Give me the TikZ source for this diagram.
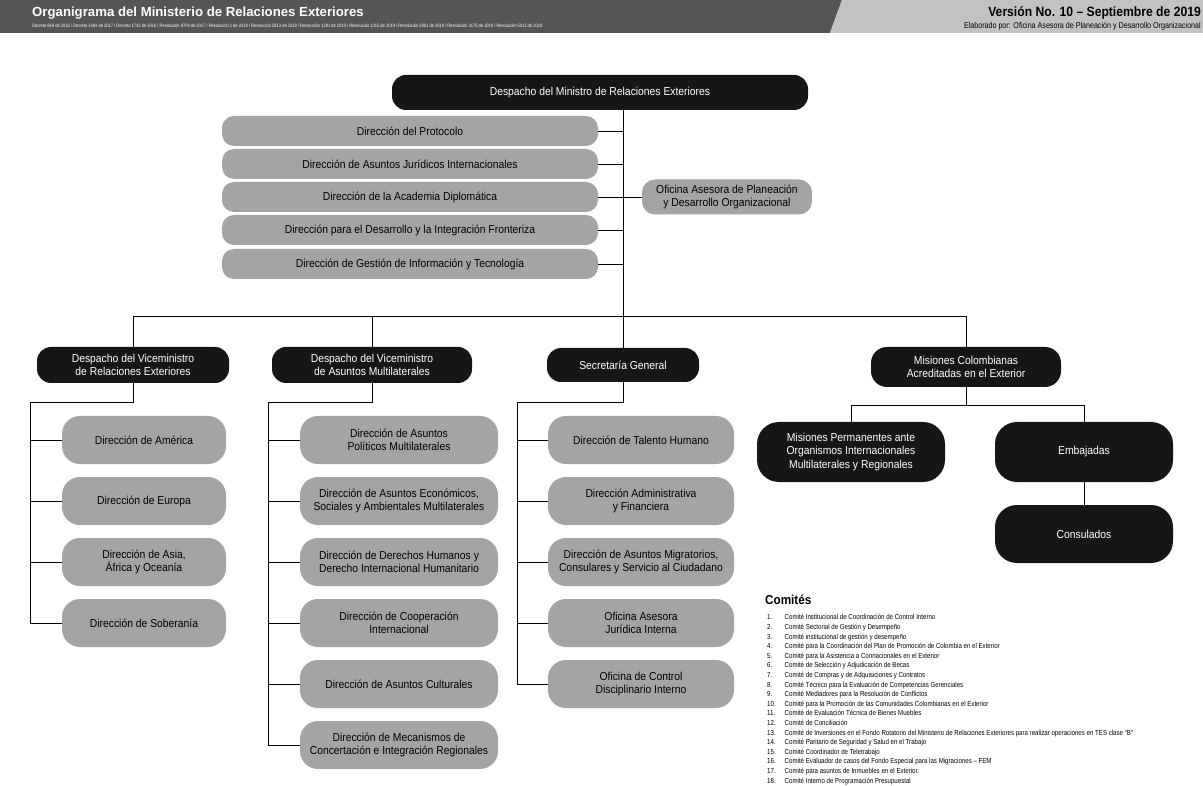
\documentclass[tikz,border=0pt]{standalone}
\usepackage{fontspec}
\setmainfont{Liberation Sans}
\newfontfamily\narrowfont{Liberation Sans}[FakeStretch=0.9,Ligatures=TeX]
\newfontfamily\tinyfont{Liberation Sans}[FakeStretch=0.84,Ligatures=TeX]
\usetikzlibrary{calc}
\definecolor{boxdark}{HTML}{161616}
\definecolor{boxgray}{HTML}{A4A4A4}
\definecolor{banddark}{HTML}{555555}
\definecolor{bandlight}{HTML}{C2C2C2}
\begin{document}
\begin{tikzpicture}[x=1pt,y=-1pt,
  darkbox/.style={fill=boxdark,text=white,rounded corners=14pt,align=center,inner sep=0pt,
    font=\narrowfont\fontsize{11.5}{13.5}\selectfont},
  lightbox/.style={fill=boxgray,text=black,rounded corners=14pt,align=center,inner sep=0pt,
    font=\narrowfont\fontsize{11.5}{13.5}\selectfont},
  staffbox/.style={lightbox,minimum width=376pt,minimum height=30pt,rounded corners=12pt},
  c1box/.style={lightbox,minimum width=164pt,minimum height=48pt,rounded corners=18pt},
  c2box/.style={lightbox,minimum width=198pt,minimum height=48pt,rounded corners=18pt},
  c3box/.style={lightbox,minimum width=186pt,minimum height=48pt,rounded corners=18pt},
  conn/.style={draw=black,line width=0.6pt}
]
\useasboundingbox (0,0) rectangle (1203,786);
\fill[white] (0,0) rectangle (1203,786);

% ---------- header ----------
\fill[banddark] (0,0) -- (842,0) -- (830,33) -- (0,33) -- cycle;
\fill[bandlight] (842,0) -- (1203,0) -- (1203,33) -- (830,33) -- cycle;
\node[anchor=west,inner sep=0pt,text=white,font=\bfseries\fontsize{13.2}{14}\selectfont] (title) at (32,13)
  {Organigrama del Ministerio de Relaciones Exteriores};
\node[anchor=west,inner sep=0pt,text=white,font=\tinyfont\fontsize{4.8}{5}\selectfont] (legal) at (32,26)
  {Decreto 869 de 2016 / Decreto 1484 de 2017 / Decreto 1743 de 2016 / Resolución 9709 de 2017 / Resolución 1 de 2018 / Resolución 5813 de 2018 / Resolución 1291 de 2019 / Resolución 1315 de 2019 / Resolución 2961 de 2019 / Resolución 3175 de 2019 / Resolución 5012 de 2019};
\node[anchor=east,inner sep=0pt,font=\bfseries\narrowfont\fontsize{13.5}{14}\selectfont] (version) at (1201,13)
  {Versión No. 10 – Septiembre de 2019};
\node[anchor=east,inner sep=0pt,font=\tinyfont\fontsize{8.5}{9}\selectfont] (elab) at (1201,26)
  {Elaborado por: Oficina Asesora de Planeación y Desarrollo Organizacional};

% ---------- top ----------
\node[darkbox,minimum width=416pt,minimum height=35pt] (min) at (600,92.5)
  {Despacho del Ministro de Relaciones Exteriores};

\node[staffbox] (s1) at (410,131) {Dirección del Protocolo};
\node[staffbox] (s2) at (410,164) {Dirección de Asuntos Jurídicos Internacionales};
\node[staffbox] (s3) at (410,197) {Dirección de la Academia Diplomática};
\node[staffbox] (s4) at (410,230) {Dirección para el Desarrollo y la Integración Fronteriza};
\node[staffbox] (s5) at (410,264) {Dirección de Gestión de Información y Tecnología};

\node[lightbox,minimum width=170pt,minimum height=35pt,rounded corners=13pt] (ofi) at (727,197)
  {Oficina Asesora de Planeación\\y Desarrollo Organizacional};

% ---------- second level ----------
\node[darkbox,minimum width=192pt,minimum height=36pt] (vm1) at (133,365)
  {Despacho del Viceministro\\de Relaciones Exteriores};
\node[darkbox,minimum width=200pt,minimum height=36pt] (vm2) at (372,365)
  {Despacho del Viceministro\\de Asuntos Multilaterales};
\node[darkbox,minimum width=152pt,minimum height=34pt] (sg) at (623,365)
  {Secretaría General};
\node[darkbox,minimum width=190pt,minimum height=40pt,rounded corners=16pt] (mis) at (966,367)
  {Misiones Colombianas\\Acreditadas en el Exterior};

% ---------- column 1 ----------
\node[c1box] (a1) at (144,440) {Dirección de América};
\node[c1box] (a2) at (144,501) {Dirección de Europa};
\node[c1box] (a3) at (144,562) {Dirección de Asia,\\África y Oceanía};
\node[c1box] (a4) at (144,623) {Dirección de Soberanía};

% ---------- column 2 ----------
\node[c2box] (b1) at (399,440) {Dirección de Asuntos\\Políticos Multilaterales};
\node[c2box] (b2) at (399,501) {Dirección de Asuntos Económicos,\\Sociales y Ambientales Multilaterales};
\node[c2box] (b3) at (399,562) {Dirección de Derechos Humanos y\\Derecho Internacional Humanitario};
\node[c2box] (b4) at (399,623) {Dirección de Cooperación\\Internacional};
\node[c2box] (b5) at (399,684) {Dirección de Asuntos Culturales};
\node[c2box] (b6) at (399,745) {Dirección de Mecanismos de\\Concertación e Integración Regionales};

% ---------- column 3 ----------
\node[c3box] (d1) at (641,440) {Dirección de Talento Humano};
\node[c3box] (d2) at (641,501) {Dirección Administrativa\\y Financiera};
\node[c3box] (d3) at (641,562) {Dirección de Asuntos Migratorios,\\Consulares y Servicio al Ciudadano};
\node[c3box] (d4) at (641,623) {Oficina Asesora\\Jurídica Interna};
\node[c3box] (d5) at (641,684) {Oficina de Control\\Disciplinario Interno};

% ---------- missions ----------
\node[darkbox,minimum width=188pt,minimum height=60pt,rounded corners=22pt] (mp) at (851,452)
  {Misiones Permanentes ante\\Organismos Internacionales\\Multilaterales y Regionales};
\node[darkbox,minimum width=178pt,minimum height=60pt,rounded corners=22pt] (emb) at (1084,452)
  {Embajadas};
\node[darkbox,minimum width=178pt,minimum height=58pt,rounded corners=22pt] (con) at (1084,534)
  {Consulados};

% ---------- connectors ----------
\coordinate (busy) at (0,316);
\coordinate (coly) at (0,402);
\coordinate (misy) at (0,405);
\coordinate (x1) at (30,0);
\coordinate (x2) at (268,0);
\coordinate (x3) at (517,0);

\draw[conn] (min.south -| sg.north) -- (sg.north);
\foreach \s in {s1,s2,s3,s4,s5} \draw[conn] (\s.east) -- (\s.east -| sg.north);
\draw[conn] (ofi.west) -- (ofi.west -| sg.north);
\draw[conn] (vm1.north) -- (vm1.north |- busy) -- (mis.north |- busy) -- (mis.north);
\draw[conn] (vm2.north) -- (vm2.north |- busy);

\draw[conn] (vm1.south) -- (vm1.south |- coly) -- (x1 |- coly) -- (x1 |- a4.west);
\foreach \n in {a1,a2,a3,a4} \draw[conn] (x1 |- \n.west) -- (\n.west);
\draw[conn] (vm2.south) -- (vm2.south |- coly) -- (x2 |- coly) -- (x2 |- b6.west);
\foreach \n in {b1,b2,b3,b4,b5,b6} \draw[conn] (x2 |- \n.west) -- (\n.west);
\draw[conn] (sg.south) -- (sg.south |- coly) -- (x3 |- coly) -- (x3 |- d5.west);
\foreach \n in {d1,d2,d3,d4,d5} \draw[conn] (x3 |- \n.west) -- (\n.west);

\draw[conn] (mis.south) -- (mis.south |- misy);
\draw[conn] (mp.north) -- (mp.north |- misy) -- (emb.north |- misy) -- (emb.north);
\draw[conn] (emb.south) -- (con.north);

% ---------- committees ----------
\node[anchor=west,inner sep=0pt,font=\bfseries\narrowfont\fontsize{13}{14}\selectfont] (com) at (765,600) {Comités};
\node[anchor=north west,inner sep=0pt,font=\tinyfont\fontsize{7.3}{9.6}\selectfont] (list) at (767,613)
{\begin{tabular}{@{}l@{\hspace{9pt}}l@{}}
1. & Comité Institucional de Coordinación de Control Interno\\
2. & Comité Sectorial de Gestión y Desempeño\\
3. & Comité institucional de gestión y desempeño\\
4. & Comité para la Coordinación del Plan de Promoción de Colombia en el Exterior\\
5. & Comité para la Asistencia a Connacionales en el Exterior\\
6. & Comité de Selección y Adjudicación de Becas\\
7. & Comité de Compras y de Adquisiciones y Contratos\\
8. & Comité Técnico para la Evaluación de Competencias Gerenciales\\
9. & Comité Mediadores para la Resolución de Conflictos\\
10. & Comité para la Promoción de las Comunidades Colombianas en el Exterior\\
11. & Comité de Evaluación Técnica de Bienes Muebles\\
12. & Comité de Conciliación\\
13. & Comité de Inversiones en el Fondo Rotatorio del Ministerio de Relaciones Exteriores para realizar operaciones en TES clase “B”\\
14. & Comité Paritario de Seguridad y Salud en el Trabajo\\
15. & Comité Coordinador de Teletrabajo\\
16. & Comité Evaluador de casos del Fondo Especial para las Migraciones – FEM\\
17. & Comité para asuntos de Inmuebles en el Exterior.\\
18. & Comité Interno de Programación Presupuestal
\end{tabular}};
\end{tikzpicture}
\end{document}
